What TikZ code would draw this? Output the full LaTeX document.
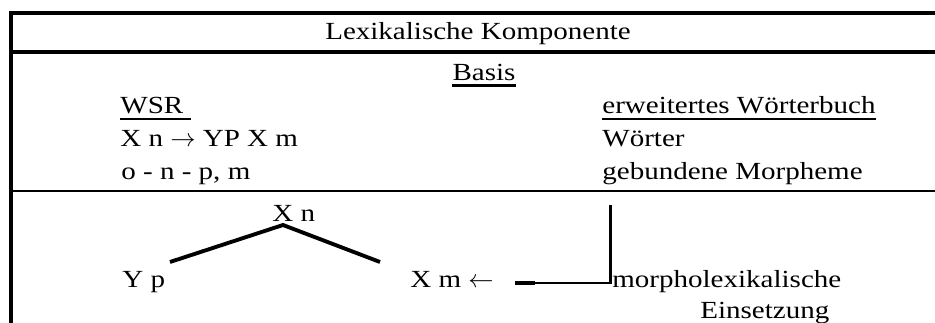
\documentclass[tikz,border=0pt]{standalone}
\usepackage{fontspec}
\setmainfont{Liberation Serif}[FakeStretch=1.18]
\begin{document}
\begin{tikzpicture}[
 x=0.02cm,y=-0.02cm,
 every node/.style={font=\fontsize{14}{16}\selectfont,inner sep=0pt},
 entry/.style={anchor=base west},
 frame/.style={line width=2.8pt},
 rule/.style={line width=1.7pt},
 uline/.style={line width=1.4pt},
 branch/.style={line width=2.2pt},
 link/.style={line width=1.7pt}
]
 \useasboundingbox (0,0) rectangle (935,323);

 % box lines, open to the right and below
 \draw[frame] (935,13) -- (11,13) -- (11,323);
 \draw[frame] (11,52) -- (935,52);
 \draw[rule] (11,191) -- (935,191);

 \node[anchor=base] (head) at (478,40) {Lexikalische Komponente};
 \node[anchor=base] (basis) at (484,81) {Basis};

 \node[entry] (wsr) at (120,114) {WSR};
 \node[entry] (rule1) at (120,147) {X n $\rightarrow$ YP X m};
 \node[entry] (rule2) at (121,180) {o - n - p, m};

 \node[entry] (lex) at (602,114) {erweitertes Wörterbuch};
 \node[entry] (words) at (602,147) {Wörter};
 \node[entry] (morph) at (602,180) {gebundene Morpheme};

 \draw[uline] ([yshift=-0.09cm]basis.base west) -- ([yshift=-0.09cm]basis.base east);
 \draw[uline] ([yshift=-0.1cm]wsr.base west) -- ([yshift=-0.1cm,xshift=0.14cm]wsr.base east);
 \draw[uline] ([yshift=-0.1cm]lex.base west) -- ([yshift=-0.1cm]lex.base east);

 % tree
 \node[entry] (xn) at (272,222) {X n};
 \node[entry] (yp) at (122,288) {Y p};
 \node[entry] (xm) at (410,288) {X m $\leftarrow$};
 \coordinate (xn-foot) at (283,225);
 \coordinate (yp-arm) at (170,262);
 \coordinate (xm-arm) at (380,262);
 \draw[branch] (yp-arm) -- (xn-foot) -- (xm-arm);

 \node[entry] (ins1) at (612,288) {morpholexikalische};
 \node[entry] (ins2) at (700,318) {Einsetzung};
 \coordinate (drop) at (610,205);
 \coordinate (link-end) at (515,283);
 \draw[link] (drop) |- (link-end);
 \draw[frame] (link-end) -- ++(20,0);
\end{tikzpicture}
\end{document}
